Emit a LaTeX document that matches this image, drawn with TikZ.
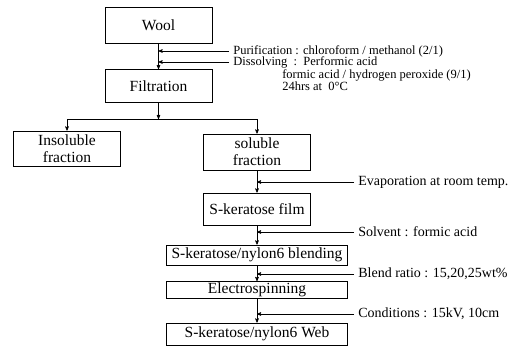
\documentclass[tikz,border=0pt]{standalone}
\usepackage{fontspec}
\setmainfont{Liberation Serif}
\usetikzlibrary{arrows}
\newcommand{\boxfont}{\fontsize{15.5}{17}\selectfont}
\newcommand{\prepfont}{\fontsize{12.5}{11.2}\selectfont}
\newcommand{\notefont}{\fontsize{14}{15}\selectfont}

\begin{document}
\begin{tikzpicture}[->,semithick,>=stealth',x=1pt,y=-1pt]
    \tikzstyle{stage}=[draw=black, rectangle, thick, minimum width=107pt, minimum height=33pt, inner sep=0pt, font=\boxfont, align=center]
    \tikzstyle{note}=[anchor=west, inner xsep=4pt, inner ysep=0pt, font=\notefont]
    \useasboundingbox (0,0) rectangle (521,347);

    % stages
    \node[stage, minimum height=36pt] (wool)  at (158.5,25)  {Wool};
    \node[stage]                      (filt)  at (158.5,86)  {Filtration};
    \node[stage, minimum height=35pt] (insol) at (67,148.5)  {Insoluble\\fraction};
    \node[stage, minimum height=36pt] (sol)   at (257,152)   {soluble\\fraction};
    \node[stage, minimum height=32pt] (film)  at (257,209)   {S-keratose film};
    \node[stage, minimum width=181pt, minimum height=20pt] (blend) at (257,255) {S-keratose/nylon6 blending};
    \node[stage, minimum width=181pt, minimum height=17pt] (spin)  at (257,290) {Electrospinning};
    \node[stage, minimum width=181pt, minimum height=22pt] (web)   at (257,334) {S-keratose/nylon6 Web};

    % conditions
    \node[note, font=\prepfont] (pur) at (229,51) {Purification : chloroform / methanol (2/1)};
    \node[note, font=\prepfont, anchor=north west, align=left] (diss) at (229,56.5)
        {Dissolving\ \ :\ \ Performic acid\\
         \hspace*{49pt}formic acid / hydrogen peroxide (9/1)\\
         \hspace*{49pt}24hrs at\ \ 0°C};
    \coordinate (dissin) at ([yshift=-5.5pt]diss.north west);
    \node[note] (evap)  at (354,182) {Evaporation at room temp.};
    \node[note] (solv)  at (354,232) {Solvent : formic acid};
    \node[note] (ratio) at (354,274) {Blend ratio : 15,20,25wt\%};
    \node[note] (cond)  at (354,314) {Conditions : 15kV, 10cm};

    \coordinate (split) at (158.5,119);

    \draw (wool) -- (filt);
    \draw (pur.west) -- (pur.west -| wool.south);
    \draw (dissin) -- (dissin -| wool.south);
    \draw (filt) -- (split);
    \draw (split) -| (insol);
    \draw (split) -| (sol);

    \draw (sol) -- (film);
    \draw (evap.west) -- (evap.west -| sol.south);
    \draw (film) -- (blend);
    \draw (solv.west) -- (solv.west -| film.south);
    \draw (blend) -- (spin);
    \draw (ratio.west) -- (ratio.west -| blend.south);
    \draw (spin) -- (web);
    \draw (cond.west) -- (cond.west -| spin.south);
\end{tikzpicture}
\end{document}
